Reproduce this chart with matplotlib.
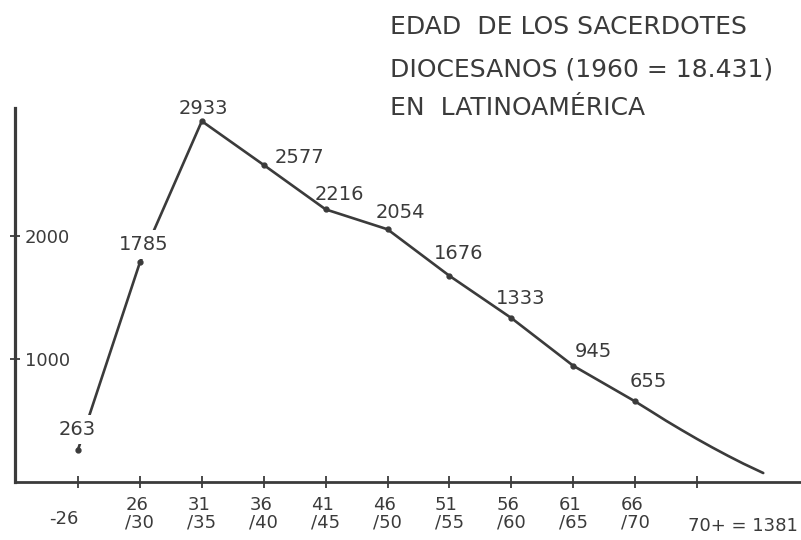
import matplotlib
matplotlib.use("Agg")
import matplotlib.pyplot as plt

# age groups (x categories) and number of diocesan priests
age_groups = ["-26", "26\n/30", "31\n/35", "36\n/40", "41\n/45", "46\n/50",
              "51\n/55", "56\n/60", "61\n/65", "66\n/70", "70+ = 1381"]
priests = [263, 1785, 2933, 2577, 2216, 2054, 1676, 1333, 945, 655]

# hand-drawn tail for the 70+ group
tail_pos = [9.25, 9.5, 9.75, 10, 10.25, 10.5, 10.75, 11.07]
tail_vals = [577, 498, 423, 350, 280, 213, 149, 73]

y_ticks = [1000, 2000]
title_lines = ["EDAD  DE LOS SACERDOTES",
               "DIOCESANOS (1960 = 18.431)",
               "EN  LATINOAMÉRICA"]

INK = "#3b3b3b"

# label offsets in pixels relative to each point
label_offsets = [(-1, 20), (4, 18), (2, 13), (36, 7), (14, 15),
                 (13, 17), (9, 22), (9, 20), (20, 14), (13, 20)]
masked = [True, True] + [False] * 8  # labels that cut through the line

W, H = 801, 540
fig = plt.figure(figsize=(W / 100, H / 100), dpi=100)
fig.patch.set_facecolor("white")
ax = fig.add_axes([15 / W, (H - 482) / H, (W - 15) / W, (482 - 108) / H])

x = list(range(len(priests)))
ax.plot([x[-1]] + tail_pos, [priests[-1]] + tail_vals, color=INK, lw=1.9,
        solid_capstyle="round", solid_joinstyle="round", zorder=2)
ax.plot(x, priests, color=INK, lw=1.9, marker="o", markersize=3.5,
        solid_joinstyle="round", zorder=2)

for xi, v, (dx, dy), m in zip(x, priests, label_offsets, masked):
    box = dict(boxstyle="square,pad=0.25", fc="white", ec="none") if m else None
    ax.annotate(str(v), xy=(xi, v), xytext=(dx, dy), textcoords="offset pixels",
                ha="center", va="center", fontsize=14, color=INK, zorder=3,
                bbox=box)

ax.set_xlim(-1.018, 11.68)
ax.set_ylim(0, 3040)

ax.set_xticks(range(len(age_groups)))
ax.set_xticklabels([])
ax.set_yticks(y_ticks)
ax.set_yticklabels([str(t) for t in y_ticks])
ax.tick_params(axis="x", direction="inout", length=9, width=1.3, color=INK)
ax.tick_params(axis="y", direction="inout", length=7, width=1.3, color=INK,
               pad=-10.7, labelsize=13, labelcolor=INK)
for lbl in ax.get_yticklabels():
    lbl.set_ha("left")

for i, lab in enumerate(age_groups):
    if i == 0:
        dx, dy, ha = -14, -37, "center"
    elif i == len(age_groups) - 1:
        dx, dy, ha = -9, -44, "left"
    else:
        dx, dy, ha = 0, -32, "center"
    ax.annotate(lab, xy=(i, 0), xytext=(dx, dy), textcoords="offset pixels",
                ha=ha, va="center", multialignment="left", fontsize=13,
                color=INK, linespacing=0.95, annotation_clip=False)

for side in ["top", "right"]:
    ax.spines[side].set_visible(False)
ax.spines["left"].set_linewidth(2.3)
ax.spines["bottom"].set_linewidth(2.0)
ax.spines["left"].set_color(INK)
ax.spines["bottom"].set_color(INK)
ax.set_facecolor("none")

title_y = [27, 70, 108]
for line, ty in zip(title_lines, title_y):
    fig.text(390 / W, 1 - ty / H, line, ha="left", va="center",
             fontsize=18, color=INK)

fig.savefig("out.png", dpi=100, facecolor="white")
